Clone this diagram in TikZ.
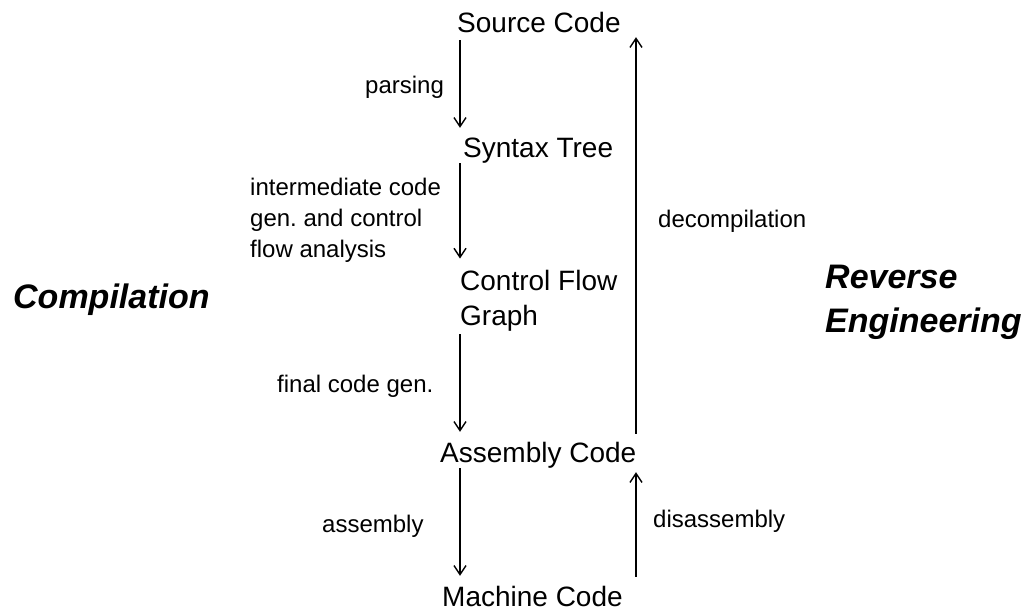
\documentclass[tikz,border=0pt]{standalone}
\usepackage{fontspec}
\setmainfont{Liberation Sans}
\usetikzlibrary{arrows.meta}
\frenchspacing
\tikzset{
  stage/.style={font=\fontsize{28}{35}\selectfont, anchor=base west, inner sep=0pt, align=left},
  one line/.style={text height=19pt, text depth=6pt},
  step label/.style={font=\fontsize{24}{31}\selectfont, anchor=base west, inner sep=0pt, align=left},
  side title/.style={font=\fontsize{34}{42}\selectfont\bfseries\itshape, anchor=base west, inner sep=0pt, align=left},
  arr/.style={line width=1.5pt, -{Straight Barb[length=9pt,width=12pt,line width=1.4pt]}},
}
\begin{document}
\begin{tikzpicture}[x=1pt,y=-1pt]
  \useasboundingbox (0,0) rectangle (1030,610);

  % columns of the downward and upward arrows
  \coordinate (lx) at (460,0);
  \coordinate (rx) at (636,0);

  % stages of the translation (multi-line nodes sit on their last baseline)
  \node[stage,one line] (src) at (457,33)  {Source Code};
  \node[stage,one line] (syn) at (463,157) {Syntax Tree};
  \node[stage]          (cfg) at (460,325) {Control Flow\\Graph};
  \node[stage,one line] (asm) at (440,462) {Assembly Code};
  \node[stage,one line] (mc)  at (442,606) {Machine Code};

  % labels of the steps
  \node[step label] (lparse) at (365,93)  {parsing};
  \node[step label] (linter) at (250,257) {intermediate code\\gen. and control\\flow analysis};
  \node[step label] (lfinal) at (277,392) {final code gen.};
  \node[step label] (lasm)   at (322,532) {assembly};
  \node[step label] (ldec)   at (658,227) {decompilation};
  \node[step label] (ldis)   at (653,527) {disassembly};

  % directions
  \node[side title] (comp) at (13,308) {Compilation};
  \node[side title] (rev)  at (825,332) {Reverse\\[2pt]Engineering};

  % compilation chain
  \draw[arr] ([yshift=-1pt]src.south -| lx) -- ([yshift=10pt]syn.north -| lx);
  \draw[arr] (syn.south -| lx) -- ([yshift=11pt]cfg.north -| lx);
  \draw[arr] ([yshift=-3pt]cfg.south -| lx) -- ([yshift=11pt]asm.north -| lx);
  \draw[arr] (asm.south -| lx) -- ([yshift=11pt]mc.north -| lx);

  % reverse engineering chain
  \draw[arr] ([yshift=10pt]mc.north -| rx) -- ([yshift=-4pt]asm.south -| rx);
  \draw[arr] ([yshift=9pt]asm.north -| rx) -- ([yshift=2pt]src.south -| rx);
\end{tikzpicture}
\end{document}
